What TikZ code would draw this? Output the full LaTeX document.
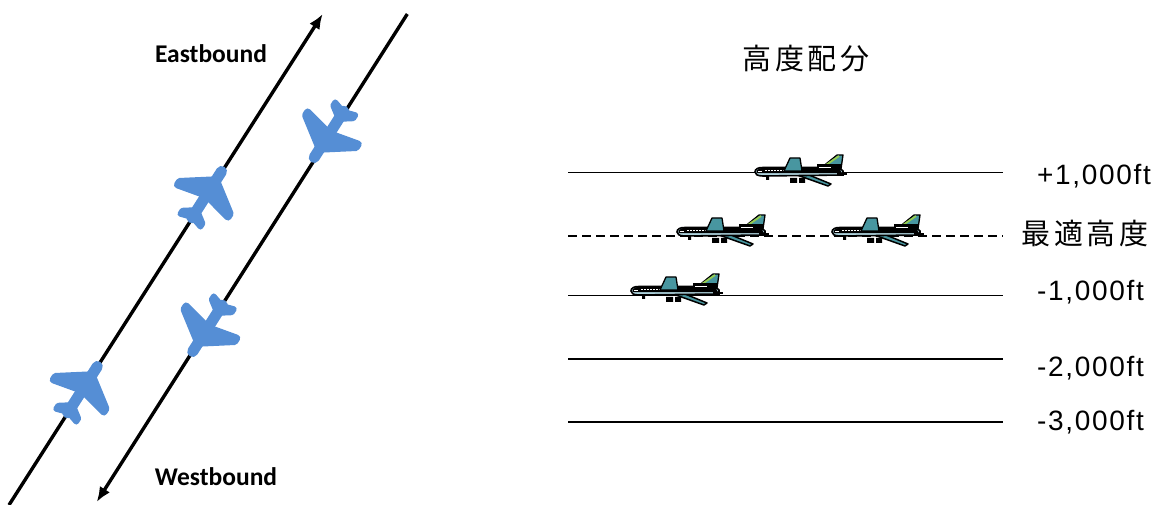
\documentclass[tikz,border=0pt]{standalone}
\usepackage{fontspec}
\usetikzlibrary{arrows.meta}
\newfontfamily\lblfont[LetterSpace=6]{Liberation Sans}
\newfontfamily\cjkfont[LetterSpace=12]{Noto Sans CJK JP}
\newfontfamily\dirfont{Carlito}
\definecolor{planeblue}{RGB}{85,142,213}
\definecolor{jetteal}{RGB}{72,150,160}
\definecolor{jetbelly}{RGB}{175,212,222}
\definecolor{jetgreen}{RGB}{150,205,80}
\tikzset{
  route/.style={line width=3.4pt, black},
  level/.style={line width=1.5pt, black},
  optlevel/.style={line width=2.2pt, black, dash pattern=on 9pt off 5pt},
  lbl/.style={inner sep=0pt, anchor=base west, font=\lblfont\fontsize{28}{30}\selectfont},
  cjk/.style={inner sep=0pt, font=\cjkfont\fontsize{29}{32}\selectfont},
  dirlbl/.style={inner sep=0pt, anchor=base, font=\dirfont\bfseries\fontsize{25.5}{28}\selectfont},
  % top view of an airliner, nose along local +x
  topjet/.pic={
    \draw[planeblue, fill=planeblue, line width=7pt, line join=round]
      (10,-3) -- (-9,-30) -- (-13,-30) -- (-7,-3) -- cycle
      (10,3) -- (-9,30) -- (-13,30) -- (-7,3) -- cycle;
    \draw[planeblue, fill=planeblue, line width=5.5pt, line join=round]
      (-25,-2) -- (-32,-12) -- (-36,-12) -- (-33,-2) -- cycle
      (-25,2) -- (-32,12) -- (-36,12) -- (-33,2) -- cycle;
    \draw[planeblue, line width=11pt, line cap=round] (-33,0) -- (22,0);
  },
  % side view of a trijet, nose at the origin, facing left
  sidejet/.pic={
    \draw[black, fill=jetteal, line width=1.5pt, line join=round]
      (42,3) -- (73,14) -- (76,12) -- (54,3) -- cycle;
    \fill[black] (35,6) rectangle (42,11) (44,6) rectangle (50,11) (11,4) rectangle (14,8);
    \draw[black, fill=jetbelly, line width=1.6pt]
      (0,0) .. controls (0,-3) and (3,-4.5) .. (8,-4.5) -- (84,-4.5) -- (88,-1)
      -- (88,3) -- (8,4) .. controls (2,4) and (0,2) .. (0,0) -- cycle;
    \fill[black] (8,-4.5) -- (84,-4.5) -- (87,1.2) -- (1.5,1.2) .. controls (0.5,0) and (1,-3) .. (8,-4.5) -- cycle;
    \foreach \w in {10,13,...,31} \fill[white] (\w,-2.3) rectangle +(1.8,1.2);
    \fill[white] (3,-0.6) rectangle (7,0.4);
    \draw[black, fill=jetteal, line width=1.3pt, line join=round]
      (29,-1) -- (35,-14) -- (45,-14) -- (47,-1) -- cycle;
    \draw[black, fill=jetteal, line width=1.3pt, line join=round]
      (66,-4) -- (82,-17) -- (88,-17) -- (86,-3) -- cycle;
    \draw[jetgreen, line width=1.8pt] (71,-7) -- (84,-16);
    \fill[black] (62,-7.5) rectangle (86,-2);
    \fill[white] (64,-5.2) rectangle (76,-4.2);
    \draw[black, line width=2pt] (82,2.5) -- (92,2.5);
  }
}
\begin{document}
\begin{tikzpicture}[x=1pt, y=-1pt]
\useasboundingbox (0,0) rectangle (1163,505);

% flight routes
\coordinate (eastS) at (9,505);
\coordinate (eastE) at (322.7,14);
\coordinate (westS) at (407.3,14);
\coordinate (westE) at (96.7,502);
\draw[route, -{Latex[length=15pt, width=12pt]}] (eastS) -- (eastE);
\draw[route, -{Latex[length=15pt, width=12pt]}] (westS) -- (westE);

\pic[rotate=57.5] at (209.7,190) {topjet};
\pic[rotate=57.5] at (85.5,385) {topjet};
\pic[rotate=237.5] at (326,139) {topjet};
\pic[rotate=237.5] at (204.5,333) {topjet};

\node[dirlbl] (east) at (211,63) {Eastbound};
\node[dirlbl] (west) at (216,485) {Westbound};

% altitude levels
\node[cjk] (title) at (806,58.5) {高度配分};
\coordinate (p1a) at (568,172.7);   \coordinate (p1b) at (1003,172.7);
\coordinate (opa) at (568,235.7);   \coordinate (opb) at (1003,235.7);
\coordinate (m1a) at (568,295.7);   \coordinate (m1b) at (1003,295.7);
\coordinate (m2a) at (568,359);     \coordinate (m2b) at (1003,359);
\coordinate (m3a) at (568,422);     \coordinate (m3b) at (1003,422);
\draw[level] (p1a) -- (p1b);
\draw[optlevel] (opa) -- (opb);
\draw[level] (m1a) -- (m1b);
\draw[level] (m2a) -- (m2b);
\draw[level] (m3a) -- (m3b);

\pic at (755,172) {sidejet};
\pic at (677,232) {sidejet};
\pic at (832,232) {sidejet};
\pic at (631,291) {sidejet};

\node[lbl] (lp1) at (1037,185) {+1,000ft};
\node[cjk, anchor=west] (lop) at (1021.5,233.5) {最適高度};
\node[lbl] (lm1) at (1037,300.7) {-1,000ft};
\node[lbl] (lm2) at (1037,377) {-2,000ft};
\node[lbl] (lm3) at (1037,430) {-3,000ft};
\end{tikzpicture}
\end{document}
